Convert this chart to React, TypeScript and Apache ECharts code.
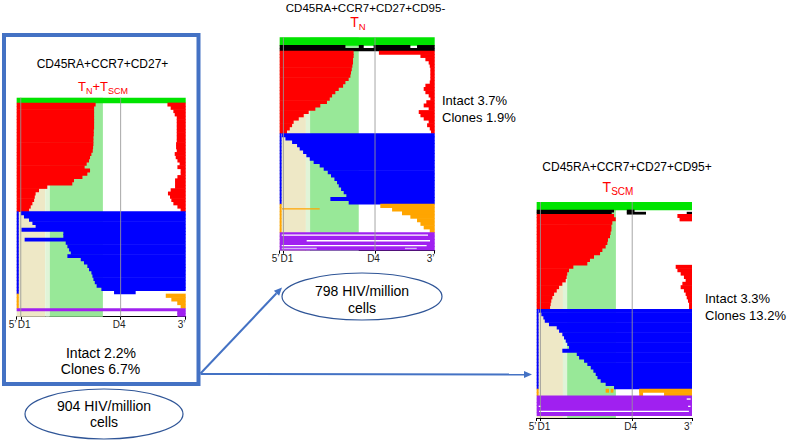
import React, { useEffect, useRef } from "react";
import * as echarts from "echarts";

const FONT = "'Liberation Sans', Arial, Helvetica, sans-serif";

// ---------- genome landmarks (percent of genome length, 5' = 0, 3' = 100)
const landmarkPositions = [0, 2.4, 61.5, 100];
const landmarkLabels = ["5’", "D1", "D4", "3’"];
const guideLinePositions = [2.4, 61.5];
// background columns (beige, pale, light green)
const bandStarts = [0, 16.9, 19.6];
const bandEnds = [16.9, 19.6, 51.0];

// ---------- Panel 1: CD45RA+CCR7+CD27+ (TN+TSCM)
const p1RedLeftEnd = [46.7, 45.8, 45.8, 45.8, 45.8, 45.8, 45.8, 45.8, 45.6, 45.6, 45.4, 45.4, 45.4, 45.2, 45.0, 44.2, 43.4, 42.8, 41.4, 40.2, 43.4, 41.8, 38.9, 33.9, 32.9, 18.1, 13.2, 11.2, 10.7, 10.3, 9.3, 8.3, 7.3];
const p1RedRightStart = [89.2, 91.1, 92.7, 93.5, 94.7, 94.7, 94.7, 94.7, 94.7, 94.7, 94.7, 94.7, 94.3, 94.3, 94.7, 93.5, 94.1, 95.1, 96.4, 95.1, 97.0, 97.0, 95.1, 93.7, 93.7, 93.7, 91.1, 89.5, 90.7, 91.5, 92.7, 95.1, 97.0];
const p1BlueStart = [2.5, 4.3, 7.3, 9.3, 11.2, 2.8, 27.6, 27.6, 4.7, 29.0, 30.0, 31.0, 32.0, 30.0, 37.9, 39.8, 41.8, 42.8, 44.2, 44.8, 45.4, 46.2, 47.3, 50.1, 57.6];
const p1BlueEnd = [100, 100, 100, 100, 100, 100, 100, 100, 100, 100, 100, 100, 100, 100, 100, 100, 100, 100, 100, 100, 100, 100, 100, 100, 70.4];
const p1OrangeStart = [88.2, 91.5, 95.0, 97.0];
const p1PurpleRows = [[[0, 100]], [[95, 100]], [[95, 100]]];

// ---------- Panel 2: CD45RA+CCR7+CD27+CD95- (TN)
const p2BlackRows = [[[0, 42.4], [51, 54.2], [60.6, 84.3], [88.6, 100]], [[0, 100]]];
const p2RedLeftEnd = [47.7, 47.7, 47.3, 47.3, 46.9, 46.5, 46.0, 45.6, 44.5, 42.4, 40.9, 38.1, 35.9, 33.8, 32.3, 30.5, 26.2, 23.0, 18.7, 15.5, 12.3, 9.0, 8.0, 6.5, 4.7];
const p2RedRightStart = [64.0, 90.8, 94.0, 96.1, 96.8, 97.2, 97.2, 97.2, 97.2, 96.8, 94.0, 92.9, 94.0, 96.1, 97.2, 94.6, 92.9, 96.1, 89.7, 90.8, 92.9, 96.1, 95.1, 96.8, 97.6];
const p2BlueStart = [1.5, 3.7, 8.0, 11.2, 12.9, 15.1, 17.2, 19.4, 21.9, 25.8, 28.4, 31.0, 33.1, 35.3, 37.0, 38.1, 39.6, 41.3, 43.0, 32.7, 44.5];
const p2OrangeStart = [64.9, 72.5, 78.9, 84.3, 88.6, 90.8, 92.9, 96.8];
const p2OrangeThin = [[1.4, 1.5, 25.8]]; // [row, from, to]
const p2PurpleRows = [[[0, 100]], [[0, 100]], [[0, 100]], [[0, 100]], [[0, 100]]];
const p2PurpleWhiteThin = [[0.8, 1.3, 95.7], [2.4, 17.4, 97.0], [3.8, 1.3, 94.8]];
const p2PurpleLavenderThin = [[4.6, 1.3, 23.9], [4.6, 80.8, 88.4]];

// ---------- Panel 3: CD45RA+CCR7+CD27+CD95+ (TSCM)
const p3BlackRows = [[[0, 49.8], [58, 63]], [[0, 48.3], [58, 70.4], [96.6, 100]]];
const p3RedLeftEnd = [49.8, 50.9, 48.7, 48.1, 48.1, 47.6, 47.2, 45.9, 45.5, 44.4, 42.3, 40.8, 36.9, 34.3, 32.6, 23.6, 20.8, 19.7, 19.3, 18.7, 16.5, 14.4, 12.9, 11.2, 10.1, 9.4, 9.0, 8.6];
const p3RedRightStart = [90.6, 92.0, 100, 100, 100, 100, 100, 100, 100, 100, 100, 100, 100, 100, 100, 89.5, 90.6, 92.7, 94.8, 95.9, 93.8, 92.7, 94.8, 95.9, 96.6, 97.4, 98.1, 98.1];
const p3BlueStart = [1.5, 3.0, 4.3, 5.2, 7.9, 12.9, 14.4, 16.5, 17.6, 18.7, 19.7, 20.8, 16.5, 25.8, 27.3, 30.5, 32.6, 34.8, 36.5, 38.0, 39.1, 41.2, 44.4, 49.8];
const p3OrangeRows = [[[44.4, 46.6], [47.6, 49.4], [65.9, 100]], [[66, 68.5], [82, 100]]];
const p3PurpleRows = [[[0, 100]], [[0, 100]], [[0, 100]], [[0, 100]], [[0, 100]], [[0, 100]]];
const p3PurpleWhiteThin = [[4.8, 1.5, 98.0], [1.1, 96.6, 99.1], [3.3, 97.5, 99.0], [3.3, 1.3, 2.8]];

// ---------- texts
const panelTitles = ["CD45RA+CCR7+CD27+", "CD45RA+CCR7+CD27+CD95-", "CD45RA+CCR7+CD27+CD95+"];
const panelSubsets = ["{t|T}{s|N}{t|+T}{s|SCM}", "{t|T}{s|N}", "{t|T}{s|SCM}"];
const intactLabels = ["Intact 2.2%", "Intact 3.7%", "Intact 3.3%"];
const cloneLabels = ["Clones 6.7%", "Clones 1.9%", "Clones 13.2%"];
const reservoirLabels = ["904 HIV/million", "798 HIV/million"];

// ---------- colours
const C = {
  red: "#FF0000",
  blue: "#0000FF",
  orange: "#FFA500",
  purple: "#A020F0",
  green: "#00E400",
  black: "#000000",
  white: "#FFFFFF",
  lavender: "#D6AEF6",
};
const bandColors = ["#EEE8C6", "#E0F4D8", "#98E898"];
const MARK = 1.2;

type Seg = number[];
type Block = { color: string; h: number; rows: Seg[][] };
type Thin = { block: number; color: string; list: number[][] };

const leftRight = (l: number[], r: number[]): Seg[][] => l.map((v, i) => [[0, v], [r[i], 100]]);
const fromStart = (s: number[], e?: number[]): Seg[][] => s.map((v, i) => [[0, MARK], [v, e ? e[i] : 100]]);
const withMark = (rows: Seg[][]): Seg[][] => rows.map((r) => [[0, MARK], ...r]);

function buildPanel(blocks: Block[], thins: Thin[], pad: number) {
  const items: any[] = [];
  const tops: number[] = [];
  let y = 0;
  blocks.forEach((b) => {
    tops.push(y);
    b.rows.forEach((r) => {
      r.forEach(([s, e]) => {
        if (e > s) items.push([s, e, y, y + b.h, b.color, 0]);
      });
      y += b.h;
    });
  });
  thins.forEach((t) => {
    const b = blocks[t.block];
    t.list.forEach(([at, s, e]) => {
      const yy = tops[t.block] + at * b.h;
      items.push([s, e, yy - 0.2, yy + 0.2, t.color, 1]);
    });
  });
  return { items, total: y + pad };
}

const panels = [
  {
    grid: { left: 16.7, top: 97.7, width: 169, height: 219 },
    ...buildPanel(
      [
        { color: C.green, h: 1.5, rows: [[[0, 100]]] },
        { color: C.red, h: 1, rows: leftRight(p1RedLeftEnd, p1RedRightStart) },
        { color: C.blue, h: 1, rows: fromStart(p1BlueStart, p1BlueEnd) },
        { color: C.orange, h: 1.1, rows: fromStart(p1OrangeStart) },
        { color: C.purple, h: 0.8, rows: p1PurpleRows },
      ],
      [],
      0.2
    ),
  },
  {
    grid: { left: 279.7, top: 37.3, width: 155, height: 213.4 },
    ...buildPanel(
      [
        { color: C.green, h: 2.3, rows: [[[0, 100]]] },
        { color: C.black, h: 0.85, rows: p2BlackRows },
        { color: C.red, h: 0.98, rows: leftRight(p2RedLeftEnd, p2RedRightStart) },
        { color: C.blue, h: 1, rows: fromStart(p2BlueStart) },
        { color: C.orange, h: 1.06, rows: fromStart(p2OrangeStart) },
        { color: C.purple, h: 1.04, rows: p2PurpleRows },
      ],
      [
        { block: 4, color: C.orange, list: p2OrangeThin },
        { block: 5, color: C.white, list: p2PurpleWhiteThin },
        { block: 5, color: C.lavender, list: p2PurpleLavenderThin },
      ],
      0.25
    ),
  },
  {
    grid: { left: 536.7, top: 202, width: 155.3, height: 216 },
    ...buildPanel(
      [
        { color: C.green, h: 2.3, rows: [[[0, 100]]] },
        { color: C.black, h: 0.65, rows: p3BlackRows },
        { color: C.red, h: 1.02, rows: leftRight(p3RedLeftEnd, p3RedRightStart) },
        { color: C.blue, h: 1, rows: fromStart(p3BlueStart) },
        { color: C.orange, h: 1, rows: withMark(p3OrangeRows) },
        { color: C.purple, h: 1, rows: p3PurpleRows },
      ],
      [{ block: 5, color: C.white, list: p3PurpleWhiteThin }],
      0.8
    ),
  },
];

function txt(text: string, x: number, y: number, size: number, align = "center", color = "#000") {
  return {
    type: "text",
    x,
    y,
    z: 30,
    style: {
      text,
      fill: color,
      fontSize: size,
      lineHeight: size,
      fontFamily: FONT,
      align,
      textAlign: align,
      verticalAlign: "middle",
      textVerticalAlign: "middle",
    },
  };
}

function subTxt(text: string, x: number, y: number, big: number, small: number) {
  return {
    type: "text",
    x,
    y,
    z: 30,
    style: {
      text,
      fill: "#FF0000",
      fontSize: big,
      fontFamily: FONT,
      align: "center",
      textAlign: "center",
      verticalAlign: "middle",
      textVerticalAlign: "middle",
      rich: {
        t: { fontSize: big, fontFamily: FONT, fill: "#FF0000", color: "#FF0000", lineHeight: big + 5 },
        s: { fontSize: small, fontFamily: FONT, fill: "#FF0000", color: "#FF0000", lineHeight: small, verticalAlign: "bottom" },
      },
    },
  };
}

function arrow(x1: number, y1: number, x2: number, y2: number) {
  const dx = x2 - x1;
  const dy = y2 - y1;
  const L = Math.hypot(dx, dy);
  const ux = dx / L;
  const uy = dy / L;
  const len = 8;
  const half = 3.6;
  const bx = x2 - ux * len;
  const by = y2 - uy * len;
  return [
    { type: "line", z: 5, shape: { x1, y1, x2: bx, y2: by }, style: { stroke: "#4472C4", lineWidth: 2 } },
    {
      type: "polygon",
      z: 5,
      shape: { points: [[x2, y2], [bx - uy * half, by + ux * half], [bx + uy * half, by - ux * half]] },
      style: { fill: "#4472C4" },
    },
  ];
}

function ellipse(cx: number, cy: number, rx: number, ry: number) {
  return {
    type: "ellipse",
    z: 10,
    shape: { cx, cy, rx, ry },
    style: { fill: "#FFFFFF", stroke: "#2F5597", lineWidth: 1.2 },
  };
}

function buildOption() {
  const richAxis = {
    l: { fontSize: 10, fontFamily: FONT, color: "#222", padding: [0, 8, 0, 0] },
    r: { fontSize: 10, fontFamily: FONT, color: "#222", padding: [0, 0, 0, 7] },
    n: { fontSize: 10, fontFamily: FONT, color: "#222", padding: [0, 3, 0, 0] },
  };
  const labelFor = (v: number) => {
    const i = landmarkPositions.findIndex((p) => Math.abs(p - v) < 1e-6);
    if (i < 0) return "";
    const key = i === 0 || i === 3 ? "l" : i === 1 ? "r" : "n";
    return `{${key}|${landmarkLabels[i]}}`;
  };

  const series: any[] = [];
  panels.forEach((p, gi) => {
    const total = p.total;
    series.push({
      type: "custom",
      xAxisIndex: gi,
      yAxisIndex: gi,
      z: 1,
      silent: true,
      data: bandStarts.map((s, i) => [s, bandEnds[i], 0, total]),
      encode: { x: [0, 1], y: [2, 3] },
      renderItem: (params: any, api: any) => {
        const a = api.coord([api.value(0), api.value(2)]);
        const b = api.coord([api.value(1), api.value(3)]);
        return {
          type: "rect",
          shape: { x: a[0], y: a[1], width: b[0] - a[0], height: b[1] - a[1] },
          style: { fill: bandColors[params.dataIndex] },
        };
      },
    });
    const items = p.items;
    series.push({
      type: "custom",
      xAxisIndex: gi,
      yAxisIndex: gi,
      z: 2,
      silent: true,
      data: items.map((it: any[]) => [it[0], it[1], it[2], it[3]]),
      encode: { x: [0, 1], y: [2, 3] },
      renderItem: (params: any, api: any) => {
        const it = items[params.dataIndex];
        const a = api.coord([api.value(0), api.value(2)]);
        const b = api.coord([api.value(1), api.value(3)]);
        return {
          type: "rect",
          shape: {
            x: a[0],
            y: a[1],
            width: b[0] - a[0],
            height: b[1] - a[1] + (it[5] ? 0 : 0.6),
          },
          style: { fill: it[4] },
        };
      },
    });
    series.push({
      type: "custom",
      xAxisIndex: gi,
      yAxisIndex: gi,
      z: 3,
      silent: true,
      data: guideLinePositions.map((x) => [x, 0, total]),
      encode: { x: 0, y: [1, 2] },
      renderItem: (params: any, api: any) => {
        const a = api.coord([api.value(0), api.value(1)]);
        const b = api.coord([api.value(0), api.value(2)]);
        return {
          type: "line",
          shape: { x1: a[0], y1: a[1], x2: b[0], y2: b[1] },
          style: { stroke: "rgba(150,150,150,0.85)", lineWidth: 1 },
        };
      },
    });
  });

  const graphic: any[] = [
    {
      type: "rect",
      z: 4,
      shape: { x: 4, y: 35, width: 194.5, height: 349 },
      style: { fill: "none", stroke: "#4472C4", lineWidth: 4 },
    },
    ...arrow(200.5, 373.5, 282, 287.5),
    ...arrow(200.5, 374, 532, 374.5),
    ellipse(104, 414, 79, 25),
    ellipse(362, 296.5, 80, 23.5),
    txt(panelTitles[0], 102.5, 64, 12),
    txt(panelTitles[1], 365.5, 8, 11.5),
    txt(panelTitles[2], 627, 167, 12),
    subTxt(panelSubsets[0], 103, 86.5, 13, 9),
    subTxt(panelSubsets[1], 358, 22.3, 14, 9.5),
    subTxt(panelSubsets[2], 618, 187.3, 14, 10),
    txt(intactLabels[0], 101, 353, 14),
    txt(cloneLabels[0], 100.5, 369, 14),
    txt(intactLabels[1], 442, 100, 13, "left"),
    txt(cloneLabels[1], 442, 117, 13, "left"),
    txt(intactLabels[2], 705, 298, 13, "left"),
    txt(cloneLabels[2], 705, 315, 13, "left"),
    txt(reservoirLabels[0], 104, 405.5, 14),
    txt("cells", 104, 422, 14),
    txt(reservoirLabels[1], 362, 291, 14),
    txt("cells", 362, 308, 14),
  ];

  return {
    animation: false,
    backgroundColor: "#FFFFFF",
    grid: panels.map((p) => ({ ...p.grid, containLabel: false })),
    xAxis: panels.map((p, i) => ({
      type: "value",
      gridIndex: i,
      min: 0,
      max: 100,
      position: "bottom",
      axisLine: { show: true, onZero: false, lineStyle: { color: "#000", width: 1 } },
      axisTick: { show: true, customValues: landmarkPositions, length: 3, lineStyle: { color: "#000" } },
      axisLabel: {
        show: true,
        customValues: landmarkPositions,
        margin: 3,
        fontSize: 10,
        fontFamily: FONT,
        color: "#222",
        formatter: (v: number) => labelFor(v),
        rich: richAxis,
      },
      splitLine: { show: false },
    })),
    yAxis: panels.map((p, i) => ({
      type: "value",
      gridIndex: i,
      min: 0,
      max: p.total,
      inverse: true,
      show: false,
      splitLine: { show: false },
    })),
    series,
    graphic,
  };
}

export default function App() {
  const ref = useRef<HTMLDivElement>(null);
  useEffect(() => {
    document.body.style.margin = "0";
    const chart = echarts.init(ref.current as HTMLDivElement, null, { renderer: "svg" });
    chart.setOption(buildOption() as any);
    return () => chart.dispose();
  }, []);
  return <div ref={ref} style={{ width: 790, height: 441, background: "#fff" }} />;
}
